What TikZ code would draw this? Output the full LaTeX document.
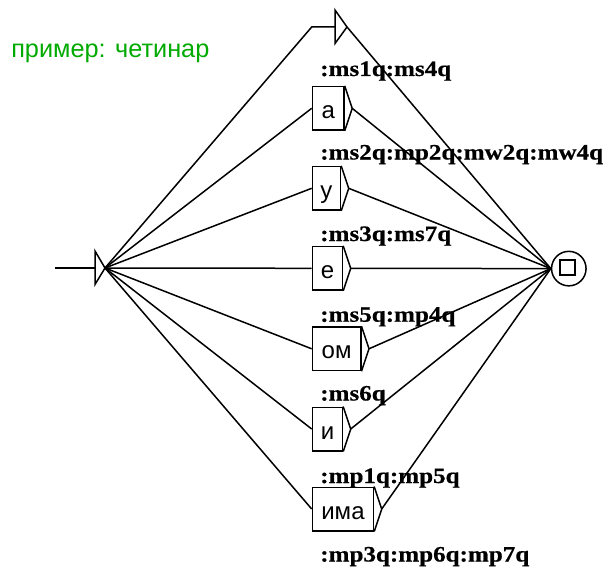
\documentclass[tikz,border=0pt]{standalone}
\usepackage{fontspec}
\setmainfont{Liberation Sans}
\newfontfamily\boxfont{Liberation Sans}
\newfontfamily\outfont{Liberation Serif Bold}[FakeStretch=1.14,FakeBold=0.6]
\definecolor{commentgreen}{RGB}{0,170,0}
\begin{document}
\begin{tikzpicture}[x=1pt,y=-1pt,line width=1.5pt,
  boxnode/.style={draw,fill=white,minimum height=43.5pt,inner xsep=0pt,inner ysep=0pt,
    text height=20pt,text depth=0pt,anchor=west,font=\boxfont\fontsize{24}{28}\selectfont},
  outlabel/.style={anchor=base west,inner sep=0pt,font=\outfont\fontsize{22}{25}\selectfont},
  tri/.style={line join=miter}]
\useasboundingbox (0,0) rectangle (609,567);

% comment line
\node[anchor=base west,inner sep=0pt,text=commentgreen,font=\fontsize{25.3}{30}\selectfont]
  (comment) at (10.5,57.7) {пример: четинар};

% outputs
\node[outlabel] (o0) at (319.5,76) {:ms1q:ms4q};
\node[outlabel] (o1) at (319.5,159.5) {:ms2q:mp2q:mw2q:mw4q};
\node[outlabel] (o2) at (319.5,241) {:ms3q:ms7q};
\node[outlabel] (o3) at (319.5,321.7) {:ms5q:mp4q};
\node[outlabel] (o4) at (319.5,400.5) {:ms6q};
\node[outlabel] (o5) at (319.5,483) {:mp1q:mp5q};
\node[outlabel] (o6) at (319.5,561.5) {:mp3q:mp6q:mp7q};

% initial state
\coordinate (instart) at (55,268);
\coordinate (inbase) at (95,268);
\coordinate (init) at (105,268);
\draw (instart) -- (inbase);
\draw[tri] (95,251) -- (init) -- (95,284.5) -- cycle;

% final state
\node[circle,draw,minimum size=34.5pt,inner sep=0pt] (fin) at (568.8,268.6) {};
\draw[line width=2.2pt] (560.2,260.2) rectangle (575.2,275.2);

% empty box
\coordinate (e0in) at (311.7,27);
\coordinate (e0base) at (335,27);
\coordinate (e0tip) at (347,27);
\draw (init) -- (e0in) -- (e0base);
\draw[tri] (335,10) -- (e0tip) -- (335,43.5) -- cycle;
\draw (e0tip) -- (fin.west);

% boxes
\node[boxnode,minimum width=31.5pt] (b1) at (311.7,108.3) {а};
\node[boxnode,minimum width=28pt] (b2) at (311.7,188.3) {у};
\node[boxnode,minimum width=30pt] (b3) at (311.7,268.3) {е};
\node[boxnode,minimum width=48.3pt] (b4) at (311.7,348.8) {ом};
\node[boxnode,minimum width=30pt] (b5) at (311.7,429) {и};
\node[boxnode,minimum width=61pt] (b6) at (311.7,509) {има};

\foreach \b in {b1,b2,b3,b4,b5,b6}{
  \coordinate (\b tip) at ([xshift=7.5pt]\b.east);
  \draw[tri] (\b.north east) -- (\b tip) -- (\b.south east);
  \draw (init) -- (\b.west);
  \draw (\b tip) -- (fin.west);
}
\end{tikzpicture}
\end{document}
